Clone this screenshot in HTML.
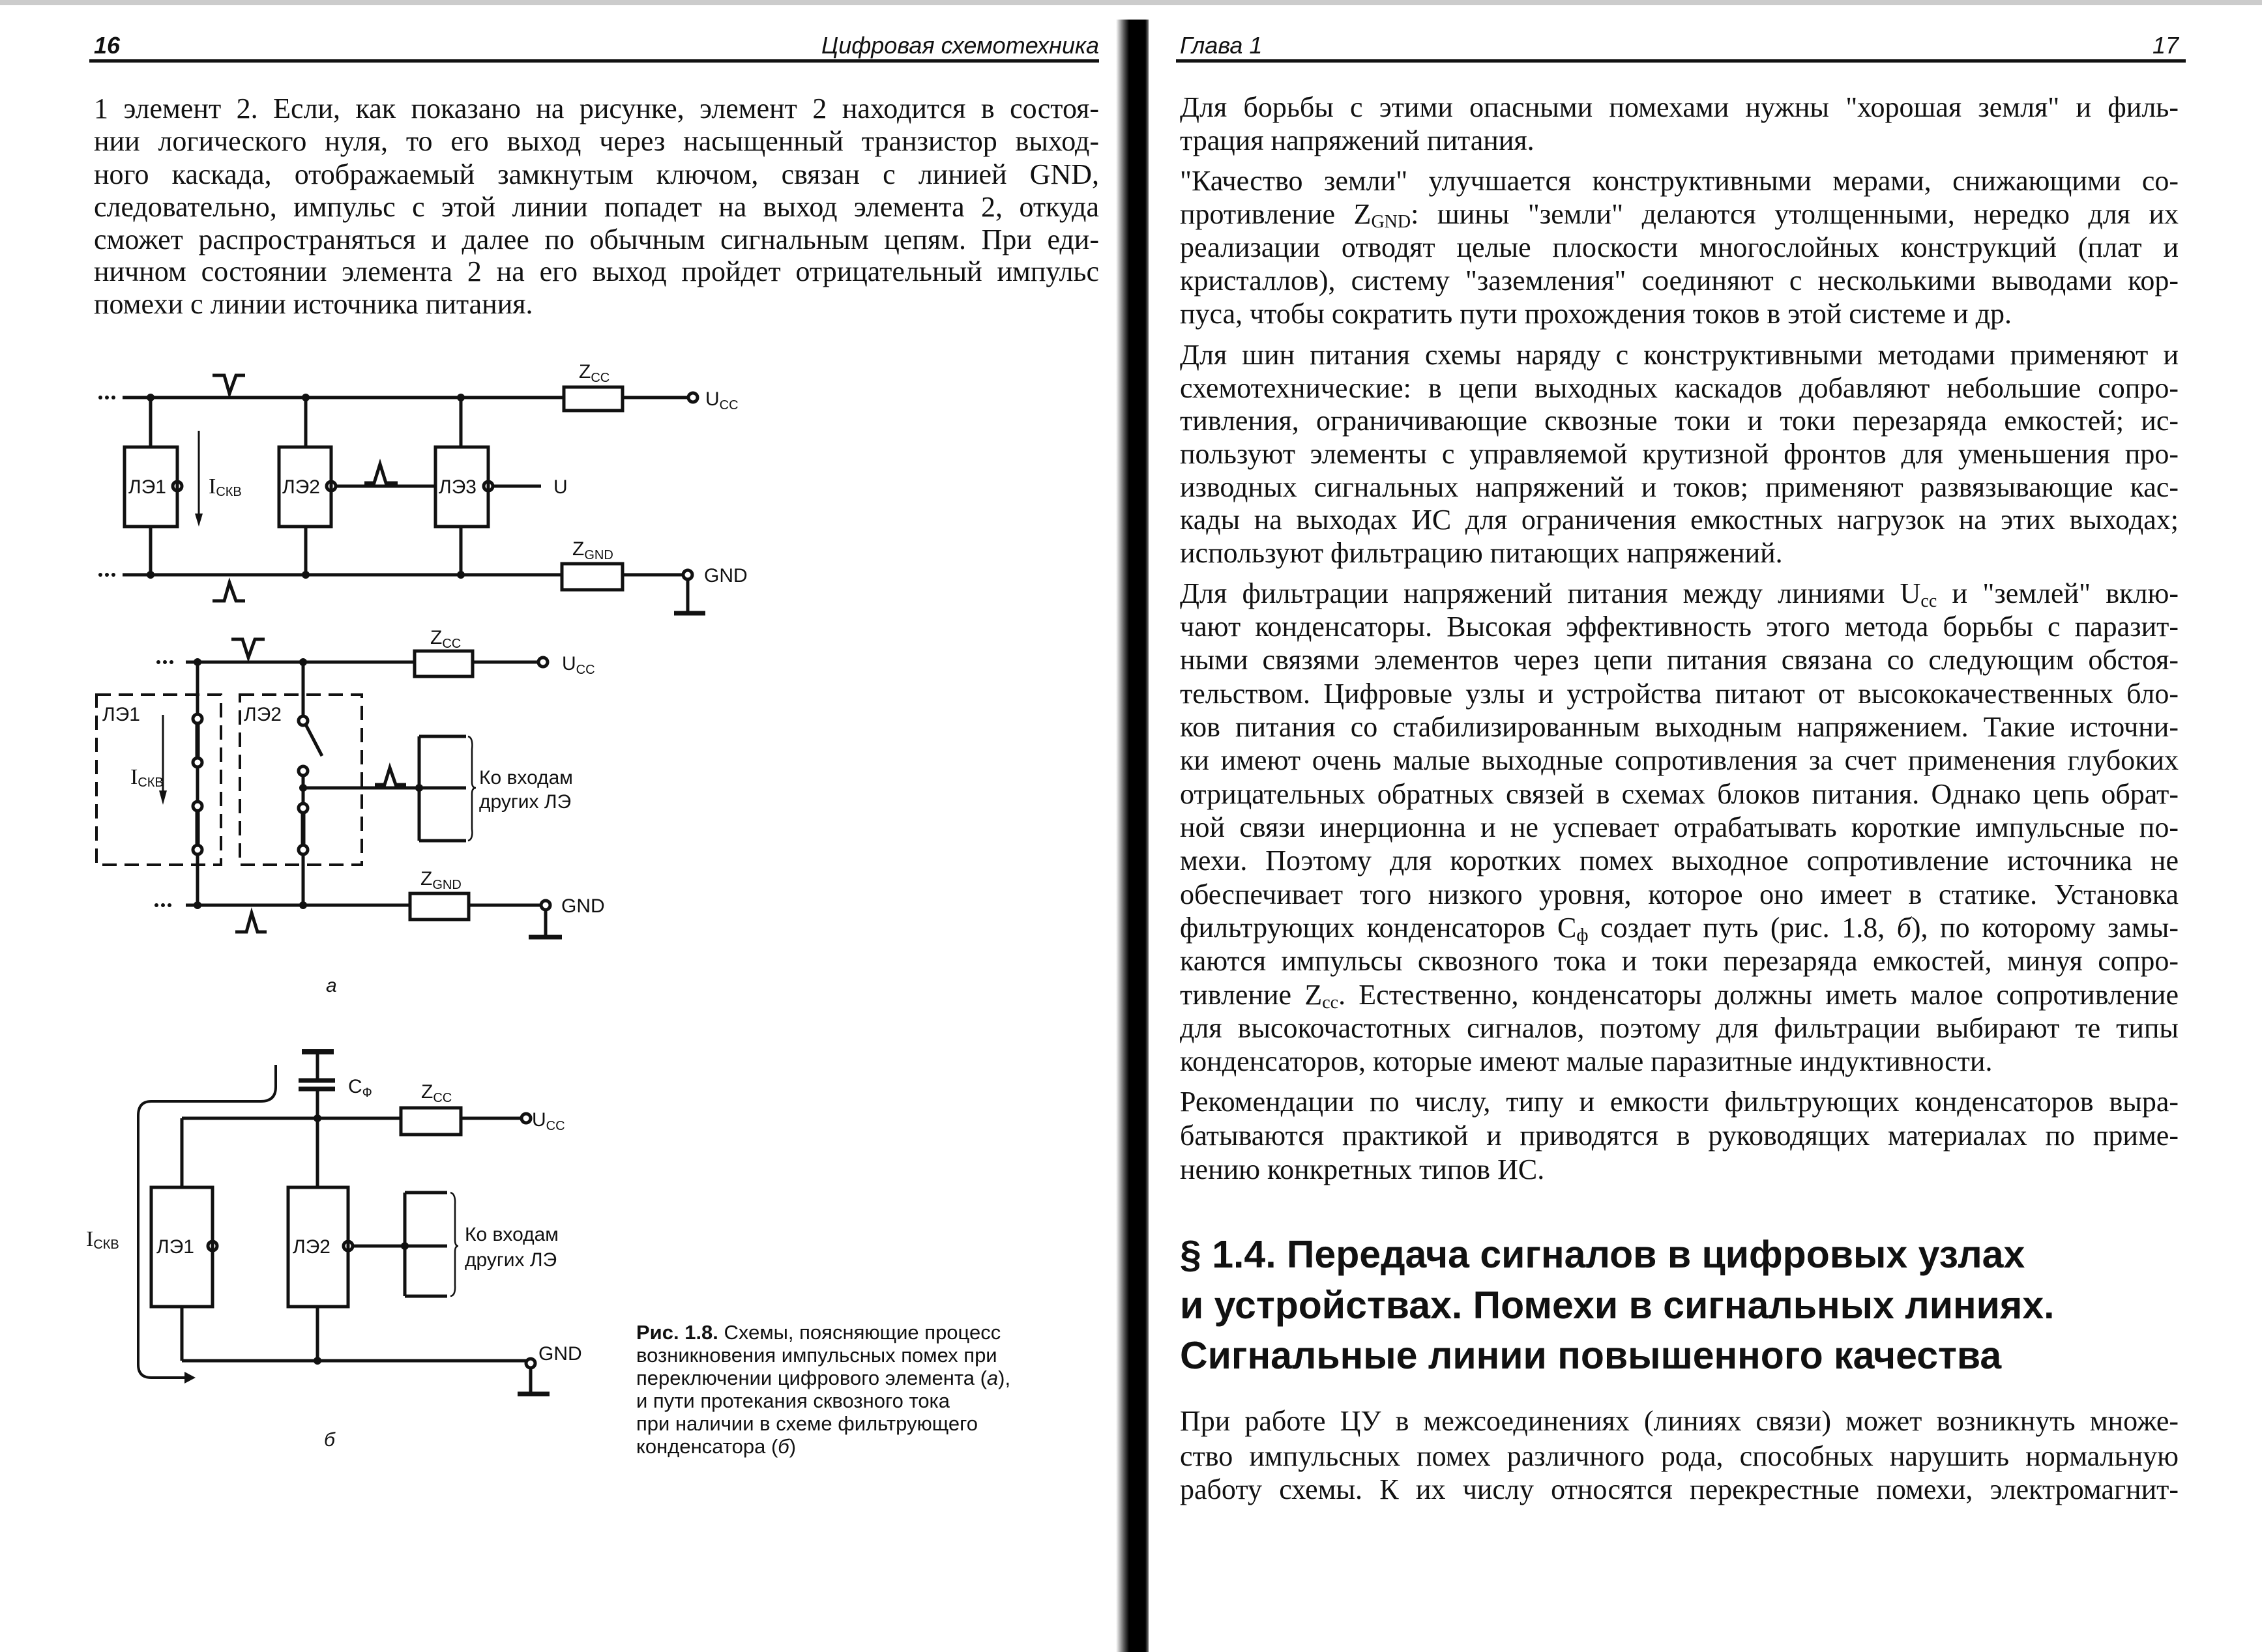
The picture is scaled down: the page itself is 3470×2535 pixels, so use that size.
<!DOCTYPE html>
<html><head><meta charset="utf-8">
<style>
html,body{margin:0;padding:0;background:#fff;}
body{width:3470px;height:2535px;position:relative;overflow:hidden;font-family:"Liberation Serif",serif;color:#111;}
.l{position:absolute;height:51px;line-height:51px;font-size:44px;text-align:justify;text-align-last:justify;white-space:normal;}
.L{left:144px;width:1542px;}
.R{left:1810px;width:1532px;}
.e{text-align-last:left;}
sub{font-size:28px;vertical-align:-6px;line-height:0;}
.h{position:absolute;left:1810px;font-family:"Liberation Sans",sans-serif;font-weight:bold;font-size:59px;line-height:77px;height:77px;white-space:nowrap;}
.hd{position:absolute;font-family:"Liberation Sans",sans-serif;font-style:italic;font-size:36px;line-height:40px;}
.cap{position:absolute;left:976px;font-family:"Liberation Sans",sans-serif;font-size:31px;line-height:36px;white-space:nowrap;}
svg{position:absolute;left:0;top:0;}
svg text{font-family:"Liberation Sans",sans-serif;font-size:30px;fill:#111;}
</style></head><body>

<div style="position:absolute;left:0;top:0;width:3470px;height:8px;background:#999;opacity:.5"></div>
<div style="position:absolute;left:1712px;top:30px;width:50px;height:2505px;background:linear-gradient(90deg,#fff,#555 25%,#000 40%,#000 90%,#777)"></div>

<div class="hd" style="left:144px;top:50px;font-weight:bold">16</div>
<div class="hd" style="left:1200px;width:486px;text-align:right;top:50px">Цифровая схемотехника</div>
<div style="position:absolute;left:137px;top:91px;width:1549px;height:5px;background:#111"></div>
<div class="hd" style="left:1810px;top:50px">Глава 1</div>
<div class="hd" style="left:3200px;width:142px;text-align:right;top:50px">17</div>
<div style="position:absolute;left:1804px;top:91px;width:1549px;height:5px;background:#111"></div>

<div class="l L" style="top:141px">1 элемент 2. Если, как показано на рисунке, элемент 2 находится в состоя-</div>
<div class="l L" style="top:191px">нии логического нуля, то его выход через насыщенный транзистор выход-</div>
<div class="l L" style="top:242px">ного каскада, отображаемый замкнутым ключом, связан с линией GND,</div>
<div class="l L" style="top:292px">следовательно, импульс с этой линии попадет на выход элемента 2, откуда</div>
<div class="l L" style="top:342px">сможет распространяться и далее по обычным сигнальным цепям. При еди-</div>
<div class="l L" style="top:391px">ничном состоянии элемента 2 на его выход пройдет отрицательный импульс</div>
<div class="l L e" style="top:441px">помехи с линии источника питания.</div>

<div class="l R" style="top:139px">Для борьбы с этими опасными помехами нужны "хорошая земля" и филь-</div>
<div class="l R e" style="top:190px">трация напряжений питания.</div>

<div class="l R" style="top:252px">"Качество земли" улучшается конструктивными мерами, снижающими со-</div>
<div class="l R" style="top:303px">противление Z<sub>GND</sub>: шины "земли" делаются утолщенными, нередко для их</div>
<div class="l R" style="top:354px">реализации отводят целые плоскости многослойных конструкций (плат и</div>
<div class="l R" style="top:405px">кристаллов), систему "заземления" соединяют с несколькими выводами кор-</div>
<div class="l R e" style="top:456px">пуса, чтобы сократить пути прохождения токов в этой системе и др.</div>

<div class="l R" style="top:519px">Для шин питания схемы наряду с конструктивными методами применяют и</div>
<div class="l R" style="top:570px">схемотехнические: в цепи выходных каскадов добавляют небольшие сопро-</div>
<div class="l R" style="top:620px">тивления, ограничивающие сквозные токи и токи перезаряда емкостей; ис-</div>
<div class="l R" style="top:671px">пользуют элементы с управляемой крутизной фронтов для уменьшения про-</div>
<div class="l R" style="top:722px">изводных сигнальных напряжений и токов; применяют развязывающие кас-</div>
<div class="l R" style="top:772px">кады на выходах ИС для ограничения емкостных нагрузок на этих выходах;</div>
<div class="l R e" style="top:823px">используют фильтрацию питающих напряжений.</div>

<div class="l R" style="top:885px">Для фильтрации напряжений питания между линиями U<sub>cc</sub> и "землей" вклю-</div>
<div class="l R" style="top:936px">чают конденсаторы. Высокая эффективность этого метода борьбы с паразит-</div>
<div class="l R" style="top:987px">ными связями элементов через цепи питания связана со следующим обстоя-</div>
<div class="l R" style="top:1039px">тельством. Цифровые узлы и устройства питают от высококачественных бло-</div>
<div class="l R" style="top:1090px">ков питания со стабилизированным выходным напряжением. Такие источни-</div>
<div class="l R" style="top:1141px">ки имеют очень малые выходные сопротивления за счет применения глубоких</div>
<div class="l R" style="top:1193px">отрицательных обратных связей в схемах блоков питания. Однако цепь обрат-</div>
<div class="l R" style="top:1244px">ной связи инерционна и не успевает отрабатывать короткие импульсные по-</div>
<div class="l R" style="top:1295px">мехи. Поэтому для коротких помех выходное сопротивление источника не</div>
<div class="l R" style="top:1347px">обеспечивает того низкого уровня, которое оно имеет в статике. Установка</div>
<div class="l R" style="top:1398px">фильтрующих конденсаторов C<sub>ф</sub> создает путь (рис. 1.8, <i>б</i>), по которому замы-</div>
<div class="l R" style="top:1449px">каются импульсы сквозного тока и токи перезаряда емкостей, минуя сопро-</div>
<div class="l R" style="top:1501px">тивление Z<sub>cc</sub>. Естественно, конденсаторы должны иметь малое сопротивление</div>
<div class="l R" style="top:1552px">для высокочастотных сигналов, поэтому для фильтрации выбирают те типы</div>
<div class="l R e" style="top:1603px">конденсаторов, которые имеют малые паразитные индуктивности.</div>

<div class="l R" style="top:1665px">Рекомендации по числу, типу и емкости фильтрующих конденсаторов выра-</div>
<div class="l R" style="top:1717px">батываются практикой и приводятся в руководящих материалах по приме-</div>
<div class="l R e" style="top:1769px">нению конкретных типов ИС.</div>

<div class="h" style="top:1887px">§ 1.4. Передача сигналов в цифровых узлах</div>
<div class="h" style="top:1965px">и устройствах. Помехи в сигнальных линиях.</div>
<div class="h" style="top:2042px">Сигнальные линии повышенного качества</div>

<div class="l R" style="top:2155px">При работе ЦУ в межсоединениях (линиях связи) может возникнуть множе-</div>
<div class="l R" style="top:2209px">ство импульсных помех различного рода, способных нарушить нормальную</div>
<div class="l R" style="top:2260px">работу схемы. К их числу относятся перекрестные помехи, электромагнит-</div>

<div class="cap" style="top:2027px"><b>Рис. 1.8.</b> Схемы, поясняющие процесс</div>
<div class="cap" style="top:2062px">возникновения импульсных помех при</div>
<div class="cap" style="top:2097px">переключении цифрового элемента (<i>а</i>),</div>
<div class="cap" style="top:2132px">и пути протекания сквозного тока</div>
<div class="cap" style="top:2167px">при наличии в схеме фильтрующего</div>
<div class="cap" style="top:2202px">конденсатора (<i>б</i>)</div>

<svg width="3470" height="2535" viewBox="0 0 3470 2535">
<g stroke="#111" stroke-width="5" fill="none">
<line x1="188" y1="610" x2="865" y2="610"/>
<rect x="865" y="594" width="90" height="36"/>
<line x1="955" y1="610" x2="1056" y2="610"/>
<circle cx="1063" cy="610" r="7"/>
<line x1="231" y1="610" x2="231" y2="686"/>
<line x1="469" y1="610" x2="469" y2="686"/>
<line x1="707" y1="610" x2="707" y2="686"/>
<rect x="191" y="686" width="81" height="122"/>
<rect x="428" y="686" width="80" height="122"/>
<rect x="668" y="686" width="81" height="122"/>
<circle cx="272" cy="746" r="7"/>
<circle cx="508" cy="746" r="7"/>
<circle cx="749" cy="746" r="7"/>
<line x1="515" y1="746" x2="668" y2="746"/>
<line x1="756" y1="746" x2="830" y2="746"/>
<line x1="231" y1="808" x2="231" y2="882"/>
<line x1="469" y1="808" x2="469" y2="882"/>
<line x1="707" y1="808" x2="707" y2="882"/>
<line x1="188" y1="882" x2="862" y2="882"/>
<rect x="862" y="865" width="93" height="40"/>
<line x1="955" y1="882" x2="1048" y2="882"/>
<circle cx="1055" cy="882" r="7"/>
<line x1="1055" y1="889" x2="1055" y2="941"/>
<line x1="1034" y1="941" x2="1082" y2="941" stroke-width="7"/>
<line x1="305" y1="661" x2="305" y2="790" stroke-width="3"/>
<path d="M326,576 L344,576 L352,604 L362,576 L376,576" stroke-width="5"/>
<path d="M326,922 L344,922 L352,894 L362,922 L376,922" stroke-width="5"/>
<path d="M559,741 L574,741 L583,712 L592,741 L610,741" stroke-width="5"/>
<line x1="285" y1="1016" x2="636" y2="1016"/>
<rect x="636" y="999" width="89" height="39"/>
<line x1="725" y1="1016" x2="826" y2="1016"/>
<circle cx="833" cy="1016" r="7"/>
<path d="M355,981 L372,981 L381,1009 L391,981 L406,981" stroke-width="5"/>
<rect x="148" y="1066" width="191" height="261" stroke-width="4" stroke-dasharray="22 12"/>
<rect x="368" y="1066" width="187" height="261" stroke-width="4" stroke-dasharray="22 12"/>
<line x1="303" y1="1016" x2="303" y2="1096"/>
<circle cx="303" cy="1103" r="7"/>
<line x1="303" y1="1110" x2="303" y2="1163" stroke-width="7"/>
<circle cx="303" cy="1170" r="7"/>
<line x1="303" y1="1177" x2="303" y2="1230"/>
<circle cx="303" cy="1237" r="7"/>
<line x1="303" y1="1244" x2="303" y2="1297" stroke-width="7"/>
<circle cx="303" cy="1304" r="7"/>
<line x1="303" y1="1311" x2="303" y2="1389"/>
<line x1="465" y1="1016" x2="465" y2="1099"/>
<circle cx="465" cy="1106" r="7"/>
<line x1="469" y1="1112" x2="494" y2="1160"/>
<circle cx="465" cy="1183" r="7"/>
<line x1="465" y1="1190" x2="465" y2="1233"/>
<circle cx="465" cy="1240" r="7"/>
<line x1="465" y1="1247" x2="465" y2="1297" stroke-width="7"/>
<circle cx="465" cy="1304" r="7"/>
<line x1="465" y1="1311" x2="465" y2="1389"/>
<line x1="465" y1="1209" x2="715" y2="1209"/>
<path d="M575,1204 L590,1204 L598,1178 L607,1204 L623,1204" stroke-width="5"/>
<line x1="643" y1="1130" x2="643" y2="1290"/>
<line x1="643" y1="1130" x2="715" y2="1130"/>
<line x1="643" y1="1290" x2="715" y2="1290"/>
<path d="M718,1130 Q726,1132 724,1150 L724,1200 Q724,1209 730,1209 Q724,1209 724,1218 L724,1272 Q726,1288 718,1290" stroke-width="2.5"/>
<line x1="285" y1="1389" x2="629" y2="1389"/>
<rect x="629" y="1371" width="90" height="40"/>
<line x1="719" y1="1389" x2="830" y2="1389"/>
<circle cx="837" cy="1389" r="7"/>
<line x1="837" y1="1396" x2="837" y2="1438"/>
<line x1="811" y1="1438" x2="862" y2="1438" stroke-width="7"/>
<path d="M361,1430 L378,1430 L386,1401 L395,1430 L409,1430" stroke-width="5"/>
<line x1="250" y1="1097" x2="250" y2="1217" stroke-width="3"/>
<line x1="463" y1="1614" x2="512" y2="1614" stroke-width="8"/>
<line x1="487" y1="1614" x2="487" y2="1658"/>
<line x1="458" y1="1658" x2="514" y2="1658" stroke-width="7"/>
<line x1="458" y1="1671" x2="514" y2="1671" stroke-width="7"/>
<line x1="487" y1="1671" x2="487" y2="1822"/>
<line x1="279" y1="1716" x2="615" y2="1716"/>
<rect x="615" y="1700" width="92" height="41"/>
<line x1="707" y1="1716" x2="800" y2="1716"/>
<circle cx="807" cy="1716" r="7"/>
<line x1="279" y1="1716" x2="279" y2="1822"/>
<rect x="232" y="1822" width="94" height="183"/>
<rect x="442" y="1822" width="92" height="183"/>
<circle cx="326" cy="1912" r="7"/>
<circle cx="534" cy="1912" r="7"/>
<line x1="541" y1="1912" x2="686" y2="1912"/>
<line x1="621" y1="1830" x2="621" y2="1989"/>
<line x1="621" y1="1830" x2="686" y2="1830"/>
<line x1="621" y1="1989" x2="686" y2="1989"/>
<path d="M691,1830 Q699,1832 698,1848 L698,1903 Q698,1912 703,1912 Q698,1912 698,1921 L698,1972 Q699,1988 691,1989" stroke-width="2.5"/>
<line x1="279" y1="2005" x2="279" y2="2088"/>
<line x1="487" y1="2005" x2="487" y2="2088"/>
<line x1="279" y1="2088" x2="807" y2="2088"/>
<circle cx="814" cy="2092" r="7"/>
<line x1="814" y1="2099" x2="814" y2="2139"/>
<line x1="794" y1="2139" x2="843" y2="2139" stroke-width="7"/>
<path d="M423,1634 L423,1668 Q423,1690 400,1690 L232,1690 Q212,1690 212,1712 L212,2094 Q212,2114 232,2114 L285,2114" stroke-width="4"/>
</g>
<g fill="#111">
<circle cx="231" cy="610" r="6"/><circle cx="469" cy="610" r="6"/><circle cx="707" cy="610" r="6"/>
<circle cx="231" cy="882" r="6"/><circle cx="469" cy="882" r="6"/><circle cx="707" cy="882" r="6"/>
<circle cx="303" cy="1016" r="6"/><circle cx="465" cy="1016" r="6"/>
<circle cx="303" cy="1389" r="6"/><circle cx="465" cy="1389" r="6"/>
<circle cx="465" cy="1209" r="6"/><circle cx="643" cy="1209" r="6"/>
<circle cx="487" cy="1716" r="6"/><circle cx="487" cy="2088" r="6"/><circle cx="621" cy="1912" r="6"/>
<polygon points="299,788 311,788 305,808"/>
<polygon points="244,1213 256,1213 250,1235"/>
<polygon points="283,2105 300,2114 283,2123"/>
<circle cx="154" cy="610" r="3"/><circle cx="164" cy="610" r="3"/><circle cx="174" cy="610" r="3"/>
<circle cx="154" cy="882" r="3"/><circle cx="164" cy="882" r="3"/><circle cx="174" cy="882" r="3"/>
<circle cx="243" cy="1016" r="3"/><circle cx="253" cy="1016" r="3"/><circle cx="263" cy="1016" r="3"/>
<circle cx="240" cy="1389" r="3"/><circle cx="250" cy="1389" r="3"/><circle cx="260" cy="1389" r="3"/>
</g>
<text x="197" y="757">ЛЭ1</text>
<text x="433" y="757">ЛЭ2</text>
<text x="673" y="757">ЛЭ3</text>
<text x="320" y="757"><tspan font-family="Liberation Serif" font-size="34">I</tspan><tspan font-size="20" dy="4">СКВ</tspan></text>
<text x="849" y="757">U</text>
<text x="1082" y="622">U<tspan font-size="20" dy="6">CC</tspan></text>
<text x="888" y="580">Z<tspan font-size="20" dy="6">CC</tspan></text>
<text x="878" y="852">Z<tspan font-size="20" dy="6">GND</tspan></text>
<text x="1080" y="893">GND</text>
<text x="157" y="1106">ЛЭ1</text>
<text x="374" y="1106">ЛЭ2</text>
<text x="200" y="1203"><tspan font-family="Liberation Serif" font-size="34">I</tspan><tspan font-size="20" dy="4">СКВ</tspan></text>
<text x="862" y="1028">U<tspan font-size="20" dy="6">CC</tspan></text>
<text x="660" y="988">Z<tspan font-size="20" dy="6">CC</tspan></text>
<text x="645" y="1358">Z<tspan font-size="20" dy="6">GND</tspan></text>
<text x="861" y="1400">GND</text>
<text x="735" y="1203">Ко входам</text>
<text x="735" y="1240">других ЛЭ</text>
<text x="500" y="1522" font-style="italic">а</text>
<text x="534" y="1677">C<tspan font-size="20" dy="6">Ф</tspan></text>
<text x="646" y="1685">Z<tspan font-size="20" dy="6">CC</tspan></text>
<text x="816" y="1728">U<tspan font-size="20" dy="6">CC</tspan></text>
<text x="240" y="1923">ЛЭ1</text>
<text x="449" y="1923">ЛЭ2</text>
<text x="713" y="1904">Ко входам</text>
<text x="713" y="1943">других ЛЭ</text>
<text x="826" y="2087">GND</text>
<text x="132" y="1912"><tspan font-family="Liberation Serif" font-size="34">I</tspan><tspan font-size="20" dy="4">СКВ</tspan></text>
<text x="497" y="2219" font-style="italic">б</text>
</svg>
</body></html>
